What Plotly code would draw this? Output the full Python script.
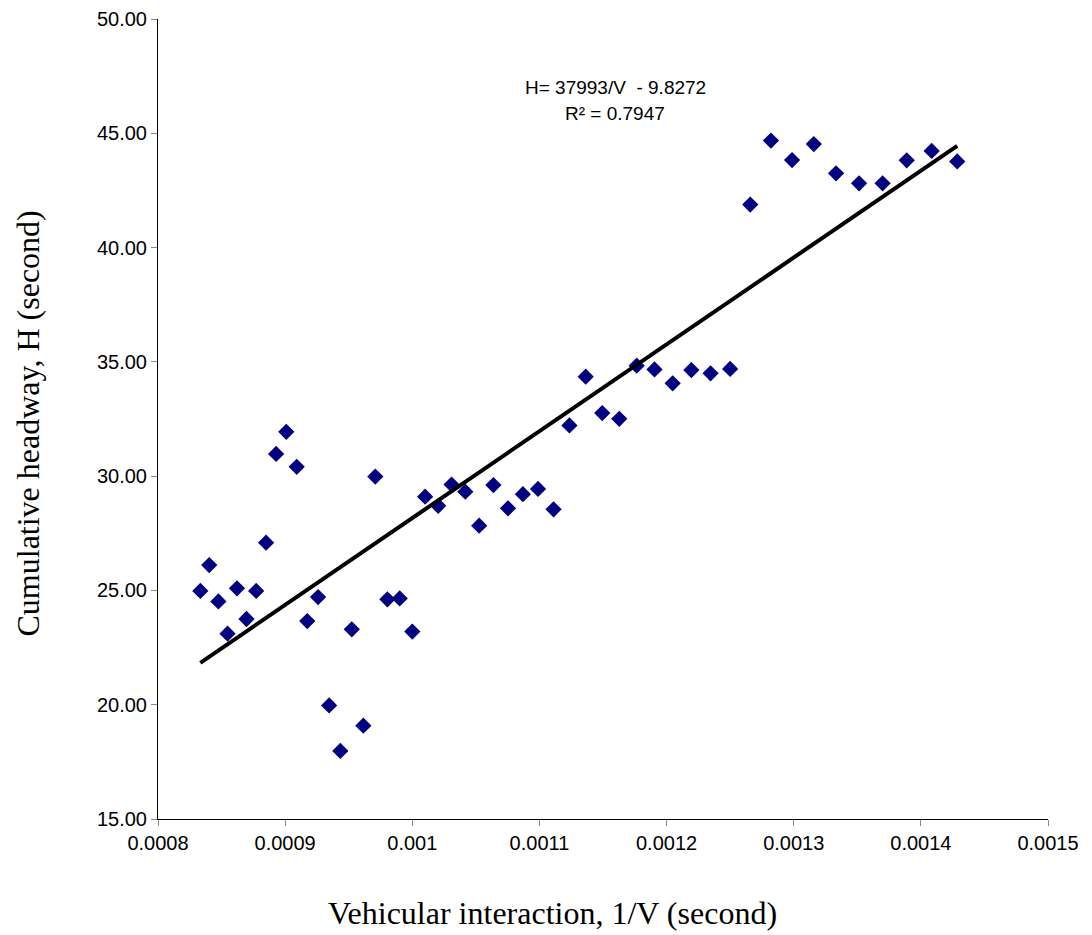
import plotly.graph_objects as go

# 1/V values (second)
inv_v = [0.0008333, 0.0008403, 0.0008475, 0.0008547, 0.0008621, 0.0008696, 0.0008772,
         0.0008850, 0.0008929, 0.0009009, 0.0009091, 0.0009174, 0.0009259, 0.0009346,
         0.0009434, 0.0009524, 0.0009615, 0.0009709, 0.0009804, 0.0009901, 0.0010000,
         0.0010101, 0.0010204, 0.0010309, 0.0010417, 0.0010526, 0.0010638, 0.0010753,
         0.0010870, 0.0010989, 0.0011111, 0.0011236, 0.0011364, 0.0011494, 0.0011628,
         0.0011765, 0.0011905, 0.0012048, 0.0012195, 0.0012346, 0.0012500, 0.0012658,
         0.0012821, 0.0012987, 0.0013158, 0.0013333, 0.0013514, 0.0013699, 0.0013889,
         0.0014085, 0.0014286]

# Cumulative headway H (second)
headway = [24.98, 26.11, 24.52, 23.11, 25.09, 23.75, 24.98, 27.09, 30.97, 31.94,
           30.41, 23.66, 24.71, 19.97, 17.98, 23.30, 19.08, 29.98, 24.61, 24.65,
           23.20, 29.10, 28.70, 29.63, 29.32, 27.83, 29.61, 28.59, 29.21, 29.44,
           28.55, 32.22, 34.35, 32.76, 32.51, 34.83, 34.67, 34.06, 34.64, 34.50,
           34.69, 41.88, 44.68, 43.83, 44.53, 43.25, 42.81, 42.81, 43.82, 44.23,
           43.77]

# Trend line H = 37993/V - 9.8272 over the data range
trend_x = [0.0008333, 0.0014286]
trend_y = [37993 * 0.0008333 - 9.8272, 37993 * 0.0014286 - 9.8272]

x_ticks = [0.0008, 0.0009, 0.0010, 0.0011, 0.0012, 0.0013, 0.0014, 0.0015]
x_tick_text = ["0.0008", "0.0009", "0.001", "0.0011", "0.0012", "0.0013", "0.0014", "0.0015"]
y_ticks = [15, 20, 25, 30, 35, 40, 45, 50]
y_tick_text = ["15.00", "20.00", "25.00", "30.00", "35.00", "40.00", "45.00", "50.00"]

fig = go.Figure()
fig.add_trace(go.Scatter(
    x=inv_v, y=headway, mode="markers",
    marker=dict(symbol="diamond", size=12.5, color="#000080"),
    showlegend=False, hoverinfo="x+y"))
fig.add_trace(go.Scatter(
    x=trend_x, y=trend_y, mode="lines",
    line=dict(color="black", width=4),
    showlegend=False, hoverinfo="skip"))

sans = "Liberation Sans, Arial"
serif = "Liberation Serif, Times New Roman"

fig.add_annotation(text="H= 37993/V  - 9.8272", xref="paper", yref="paper",
                   x=0.5135, y=0.914, xanchor="center", yanchor="middle", showarrow=False,
                   font=dict(family=sans, size=19, color="black"))
fig.add_annotation(text="R² = 0.7947", xref="paper", yref="paper",
                   x=0.5135, y=0.8815, xanchor="center", yanchor="middle", showarrow=False,
                   font=dict(family=sans, size=19, color="black"))
# axis titles
fig.add_annotation(text="Vehicular interaction, 1/V (second)", xref="paper", yref="paper",
                   x=0.4438, y=-0.1181, xanchor="center", yanchor="middle", showarrow=False,
                   font=dict(family=serif, size=32, color="black"))
fig.add_annotation(text="Cumulative headway, H (second)", xref="paper", yref="paper",
                   x=-0.1466, y=0.4938, xanchor="center", yanchor="middle", showarrow=False,
                   textangle=-90, font=dict(family=serif, size=32, color="black"))

fig.update_layout(
    width=1092, height=935,
    margin=dict(l=158, r=44, t=19, b=116, autoexpand=False),
    plot_bgcolor="white", paper_bgcolor="white",
    font=dict(family=sans, size=20, color="black"),
    xaxis=dict(range=[0.0008, 0.0015], tickmode="array", tickvals=x_ticks,
               ticktext=x_tick_text, showgrid=False, zeroline=False,
               showline=True, linecolor="black", linewidth=1, automargin=False,
               ticks="outside", ticklen=6, tickcolor="#888888",
               tickfont=dict(size=20)),
    yaxis=dict(range=[15, 50], tickmode="array", tickvals=y_ticks,
               ticktext=y_tick_text, showgrid=False, zeroline=False,
               showline=True, linecolor="black", linewidth=1, automargin=False,
               ticks="outside", ticklen=6, tickcolor="#888888",
               tickfont=dict(size=20)),
)

fig.write_html("out.html", config={"displayModeBar": False},
               post_script="document.body.style.margin='0';document.body.style.overflow='hidden';")
